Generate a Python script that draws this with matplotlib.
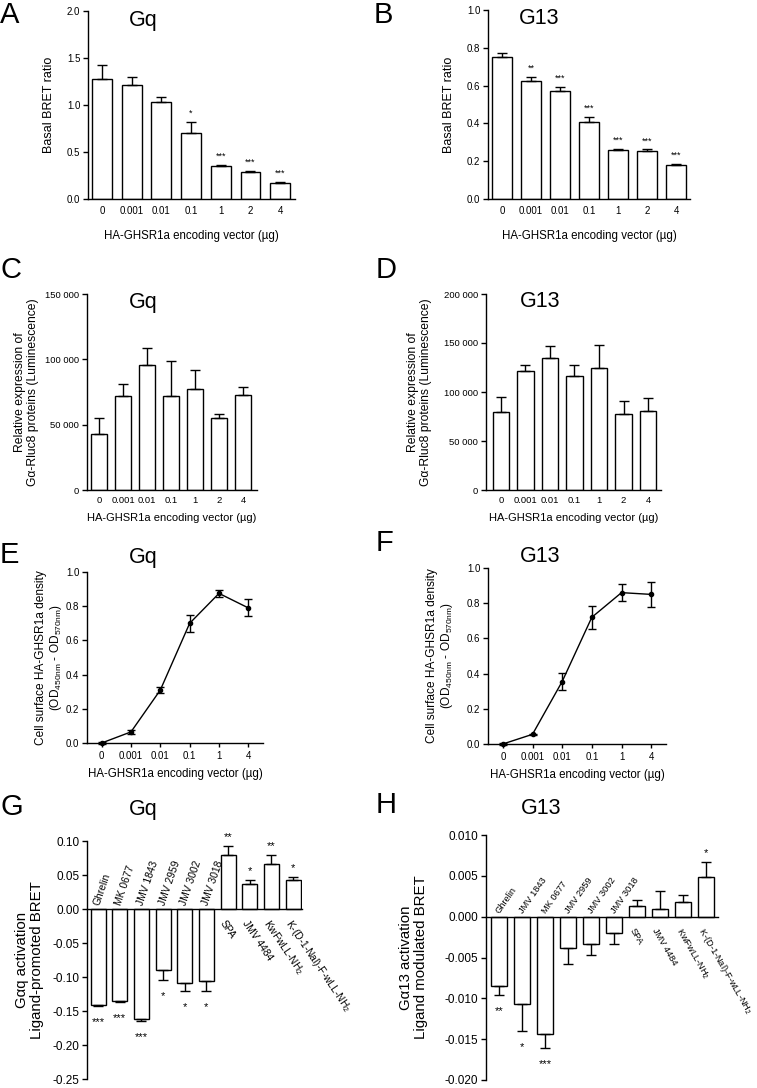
import matplotlib
matplotlib.use('Agg')
import matplotlib.pyplot as plt
import matplotlib.transforms as mtransforms
import numpy as np

plt.rcParams['font.family'] = ['Liberation Sans', 'DejaVu Sans']
plt.rcParams['mathtext.default'] = 'regular'
plt.rcParams['axes.unicode_minus'] = False

W, H = 757, 1088

# ---------------- data ----------------
dose_labels = ['0', '0.001', '0.01', '0.1', '1', '2', '4']
A_vals = [1.28, 1.21, 1.03, 0.70, 0.35, 0.29, 0.17]
A_err = [0.15, 0.09, 0.05, 0.12, 0.015, 0.008, 0.012]
A_stars = ['', '', '', '*', '***', '***', '***']
B_vals = [0.75, 0.625, 0.57, 0.41, 0.26, 0.255, 0.178]
B_err = [0.022, 0.02, 0.025, 0.022, 0.004, 0.007, 0.006]
B_stars = ['', '**', '***', '***', '***', '***', '***']
C_vals = [43000, 72000, 96000, 72000, 77000, 55000, 73000]
C_err = [12000, 9000, 13000, 27000, 15000, 3500, 6000]
D_vals = [80000, 121000, 135000, 116000, 125000, 78000, 81000]
D_err = [15000, 7000, 12000, 12000, 23000, 13000, 13000]
surf_labels = ['0', '0.001', '0.01', '0.1', '1', '4']
E_vals = [0.0, 0.065, 0.31, 0.70, 0.875, 0.79]
E_err = [0.004, 0.012, 0.02, 0.05, 0.02, 0.05]
F_vals = [0.0, 0.055, 0.355, 0.72, 0.86, 0.85]
F_err = [0.004, 0.004, 0.05, 0.065, 0.05, 0.07]
G_ligands = ['Ghrelin', 'MK 0677', 'JMV 1843', 'JMV 2959', 'JMV 3002', 'JMV 3018',
             'SPA', 'JMV 4484', 'KwFwLL-NH$_2$', 'K-(D-1-Nal)-F-wLL-NH$_2$']
G_vals = [-0.141, -0.136, -0.162, -0.089, -0.109, -0.106, 0.079, 0.037, 0.066, 0.043]
G_err = [0.001, 0.001, 0.002, 0.016, 0.012, 0.015, 0.014, 0.006, 0.013, 0.004]
G_stars = ['***', '***', '***', '*', '*', '*', '**', '*', '**', '*']
H_ligands = ['Ghrelin', 'JMV 1843', 'MK 0677', 'JMV 2959', 'JMV 3002', 'JMV 3018',
             'SPA', 'JMV 4484', 'KwFwLL-NH$_2$', 'K-(D-1-Nal)-F-wLL-NH$_2$']
H_vals = [-0.0085, -0.0107, -0.0144, -0.0038, -0.0033, -0.0020, 0.0013, 0.0010, 0.0018, 0.0049]
H_err = [0.0011, 0.0033, 0.0017, 0.0020, 0.0014, 0.0013, 0.0007, 0.0022, 0.0009, 0.0018]
H_stars = ['**', '*', '***', '', '', '', '', '', '', '*']

fig = plt.figure(figsize=(W / 100, H / 100), dpi=100)


def axes_px(l, t, r, b):
    return fig.add_axes([l / W, 1 - b / H, (r - l) / W, (b - t) / H])


def ftext(px, py, s, **kw):
    fig.text(px / W, 1 - py / H, s, **kw)


def style(ax, ylim, yticks, fmt, tsize=7.0):
    for s in ['top', 'right']:
        ax.spines[s].set_visible(False)
    for s in ['left', 'bottom']:
        ax.spines[s].set_linewidth(1.0)
    ax.set_ylim(*ylim)
    ax.set_yticks(yticks)
    ax.set_yticklabels([fmt(v) for v in yticks])
    ax.tick_params(axis='y', direction='out', length=3.5, width=1.0, pad=2, labelsize=tsize)


def bars(ax, vals, errs, width, stars=None, sfont=6.5, up_off=3, dn_off=-9):
    x = np.arange(len(vals))
    ax.bar(x, vals, width=width, color='white', edgecolor='black', linewidth=1.0, zorder=2)
    lower = [e if v < 0 else 0 for v, e in zip(vals, errs)]
    upper = [e if v >= 0 else 0 for v, e in zip(vals, errs)]
    ax.errorbar(x, vals, yerr=[lower, upper], fmt='none', ecolor='black',
                elinewidth=1.0, capsize=3.5, capthick=1.0, zorder=3)
    if stars:
        for xi, v, e, s in zip(x, vals, errs, stars):
            if not s:
                continue
            if v >= 0:
                tr = mtransforms.offset_copy(ax.transData, fig=fig, x=0, y=up_off, units='points')
                ax.text(xi, v + e, s, ha='center', va='bottom', fontsize=sfont, transform=tr)
            else:
                tr = mtransforms.offset_copy(ax.transData, fig=fig, x=0, y=dn_off, units='points')
                ax.text(xi, v - e, s, ha='center', va='top', fontsize=sfont, transform=tr)
    return x


xlab = 'HA-GHSR1a encoding vector (µg)'

# ---------------- A ----------------
ax = axes_px(88, 11, 295, 199)
x = bars(ax, A_vals, A_err, 0.67, A_stars)
style(ax, (0, 2.0), [0, 0.5, 1.0, 1.5, 2.0], lambda v: f'{v:.1f}')
ax.set_xlim(-0.47, 6.5)
ax.set_xticks(x)
ax.set_xticklabels(dose_labels)
ax.tick_params(axis='x', length=0, pad=5, labelsize=7.0)
ax.set_xlabel(xlab, fontsize=8.3, labelpad=10)
ax.set_ylabel('Basal BRET ratio', fontsize=9)
ax.yaxis.set_label_coords(-0.16, 0.5)

# ---------------- B ----------------
ax = axes_px(488, 10, 690, 199)
x = bars(ax, B_vals, B_err, 0.67, B_stars)
style(ax, (0, 1.0), [0, 0.2, 0.4, 0.6, 0.8, 1.0], lambda v: f'{v:.1f}')
ax.set_xlim(-0.48, 6.48)
ax.set_xticks(x)
ax.set_xticklabels(dose_labels)
ax.tick_params(axis='x', length=0, pad=5, labelsize=7.0)
ax.set_xlabel(xlab, fontsize=8.3, labelpad=10)
ax.set_ylabel('Basal BRET ratio', fontsize=9)
ax.yaxis.set_label_coords(-0.163, 0.5)

lum_fmt = lambda v: f'{v:,.0f}'.replace(',', ' ')
lum_label = 'Relative expression of\nGα-Rluc8 proteins (Luminescence)'

# ---------------- C ----------------
ax = axes_px(87, 294, 257, 490)
x = bars(ax, C_vals, C_err, 0.66)
style(ax, (0, 150000), [0, 50000, 100000, 150000], lum_fmt, tsize=6.8)
ax.set_xlim(-0.5, 6.58)
ax.set_xticks(x)
ax.set_xticklabels(dose_labels)
ax.tick_params(axis='x', length=0, pad=4, labelsize=6.8)
ax.set_xlabel(xlab, fontsize=8, labelpad=6)
ax.set_ylabel(lum_label, fontsize=8.7, linespacing=1.05)
ax.yaxis.set_label_coords(-0.283, 0.5)

# ---------------- D ----------------
ax = axes_px(486, 294, 661, 490)
x = bars(ax, D_vals, D_err, 0.66)
style(ax, (0, 200000), [0, 50000, 100000, 150000, 200000], lum_fmt, tsize=6.8)
ax.set_xlim(-0.61, 6.53)
ax.set_xticks(x)
ax.set_xticklabels(dose_labels)
ax.tick_params(axis='x', length=0, pad=4, labelsize=6.8)
ax.set_xlabel(xlab, fontsize=8, labelpad=6)
ax.set_ylabel(lum_label, fontsize=8.7, linespacing=1.05)
ax.yaxis.set_label_coords(-0.31, 0.5)

surf_label = 'Cell surface HA-GHSR1a density\n(OD$_{450nm}$ - OD$_{570nm}$)'


def line_panel(ax, vals, errs):
    x = np.arange(len(vals))
    ax.errorbar(x, vals, yerr=errs, fmt='-o', color='black', ms=3, lw=1.0,
                elinewidth=1.0, capsize=3, capthick=1.0, clip_on=False, zorder=3)
    style(ax, (0, 1.0), [0, 0.2, 0.4, 0.6, 0.8, 1.0], lambda v: f'{v:.1f}')
    ax.set_xlim(-0.5, 5.5)
    ax.set_xticks(x)
    ax.set_xticklabels(surf_labels)
    ax.tick_params(axis='x', direction='out', length=3, width=1.0, pad=3, labelsize=7.0)
    ax.set_xlabel(xlab, fontsize=8.3, labelpad=5)
    ax.set_ylabel(surf_label, fontsize=8.6, linespacing=1.1)


# ---------------- E ----------------
ax = axes_px(87, 572, 263, 743)
line_panel(ax, E_vals, E_err)
ax.yaxis.set_label_coords(-0.13, 0.5)

# ---------------- F ----------------
ax = axes_px(488, 568, 666, 744)
line_panel(ax, F_vals, F_err)
ax.yaxis.set_label_coords(-0.185, 0.5)


def ligand_panel(ax, vals, errs, stars, ligands, ylim, yticks, fmt, ylabel,
                 rot_neg, rot_pos, lfont):
    x = bars(ax, vals, errs, 0.69, stars, sfont=8, up_off=3, dn_off=-8)
    style(ax, ylim, yticks, fmt, tsize=8.5)
    ax.spines['bottom'].set_position(('data', 0))
    ax.set_xticks([])
    for xi, v, lab in zip(x, vals, ligands):
        if v < 0:
            tr = mtransforms.offset_copy(ax.transData, fig=fig, x=-1, y=3, units='points')
            ax.text(xi, 0, lab, rotation=rot_neg, rotation_mode='anchor', ha='left',
                    va='center', fontsize=lfont, transform=tr)
        else:
            tr = mtransforms.offset_copy(ax.transData, fig=fig, x=-4, y=-9, units='points')
            ax.text(xi, 0, lab, rotation=rot_pos, rotation_mode='anchor', ha='left',
                    va='center', fontsize=lfont, transform=tr)
    ax.set_ylabel(ylabel, fontsize=10.8, linespacing=1.1)


# ---------------- G ----------------
ax = axes_px(87, 841, 302, 1079)
ligand_panel(ax, G_vals, G_err, G_stars, G_ligands, (-0.25, 0.10),
             [-0.25, -0.20, -0.15, -0.10, -0.05, 0.0, 0.05, 0.10],
             lambda v: f'{v:.2f}', 'Gαq activation\nLigand-promoted BRET', 71, -56, 7.4)
ax.set_xlim(-0.51, 9.41)
ax.yaxis.set_label_coords(-0.20, 0.5)

# ---------------- H ----------------
ax = axes_px(486, 835, 718, 1080)
ligand_panel(ax, H_vals, H_err, H_stars, H_ligands, (-0.020, 0.010),
             [-0.020, -0.015, -0.010, -0.005, 0.0, 0.005, 0.010],
             lambda v: f'{v:.3f}', 'Gα13 activation\nLigand modulated BRET', 55, -60, 6.7)
ax.set_xlim(-0.57, 9.52)
ax.yaxis.set_label_coords(-0.25, 0.5)

# ---------------- titles and panel letters ----------------
titles = [(143, 26, 'Gq'), (539, 24, 'G13'), (143, 308, 'Gq'), (540, 307, 'G13'),
          (143, 563, 'Gq'), (540, 562, 'G13'), (143, 815, 'Gq'), (541, 814, 'G13')]
for px, py, s in titles:
    ftext(px, py, s, ha='center', va='baseline', fontsize=15.5)

letters = [(0, 23, 'A'), (374, 23, 'B'), (0, 278, 'C'), (376, 278, 'D'),
           (0, 563, 'E'), (376, 551, 'F'), (0, 815, 'G'), (376, 813, 'H')]
for px, py, s in letters:
    ftext(px, py, s, ha='left', va='baseline', fontsize=21)

fig.savefig('out.png', dpi=100)
